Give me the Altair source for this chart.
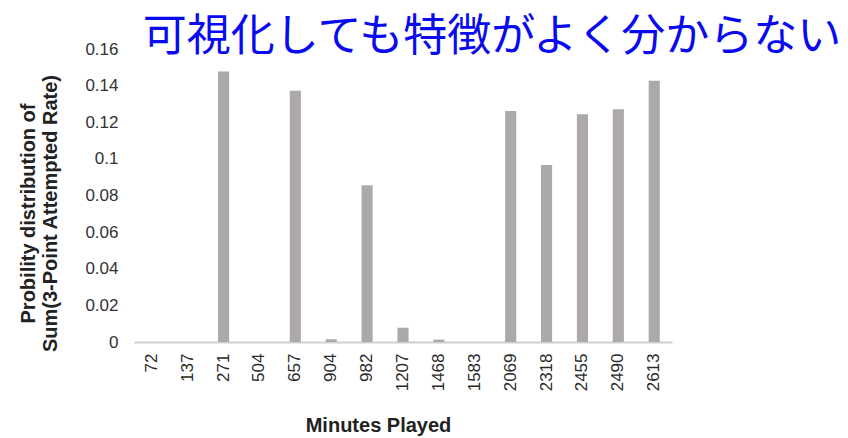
import altair as alt
import pandas as pd

minutes = ["72", "137", "271", "504", "657", "904", "982", "1207", "1468", "1583",
           "2069", "2318", "2455", "2490", "2613"]
prob = [0.0, 0.0, 0.1477, 0.0, 0.1372, 0.0015, 0.0856, 0.0078, 0.0013, 0.0,
        0.1262, 0.0967, 0.1244, 0.1271, 0.1426]
title_text = "可視化しても特徴がよく分からない"
y_ticks = [0, 0.02, 0.04, 0.06, 0.08, 0.1, 0.12, 0.14, 0.16]

df = pd.DataFrame({"minutes": minutes, "prob": prob})

FONT = "Liberation Sans"

bars = alt.Chart(df).mark_bar(color="#ADA9A8").encode(
    x=alt.X("minutes:N", sort=minutes,
            scale=alt.Scale(paddingInner=0.69, paddingOuter=0.34),
            axis=alt.Axis(title="Minutes Played", labelAngle=-90, labelFontSize=17,
                          labelColor="#2a2a2a", labelFont=FONT, labelPadding=11,
                          ticks=False, domainColor="#D0D0D0", domainWidth=2,
                          titleFont=FONT, titleFontSize=20, titleFontWeight="bold",
                          titleColor="#222222", titleX=244, titleY=83,
                          titleBaseline="middle", titleAlign="center")),
    y=alt.Y("prob:Q", scale=alt.Scale(domain=[0, 0.16], nice=False),
            axis=alt.Axis(values=y_ticks, format="~g", grid=False, domain=False, ticks=False,
                          labelFontSize=17, labelColor="#333333", labelFont=FONT,
                          labelPadding=16,
                          title=["Probility distribution of", "Sum(3-Point Attempted Rate)"],
                          titleFont=FONT, titleFontSize=20, titleFontWeight="bold",
                          titleColor="#222222", titleLineHeight=22,
                          titleAngle=-90, titleX=-96, titleY=164,
                          titleAlign="center", titleBaseline="bottom")),
)

title = alt.Chart(pd.DataFrame({"t": [title_text]})).mark_text(
    font="Noto Sans CJK JP", fontSize=44, color="#0A0AF0",
    align="center", baseline="middle"
).encode(text="t:N", x=alt.value(358), y=alt.value(-11))

chart = alt.layer(bars, title).properties(
    width=538, height=293,
    padding={"left": 134, "top": 49, "right": 176, "bottom": 96},
    autosize=alt.AutoSizeParams(type="none"),
).configure_view(stroke=None)

chart.save("out.html", embed_options={"renderer": "svg", "actions": False})
